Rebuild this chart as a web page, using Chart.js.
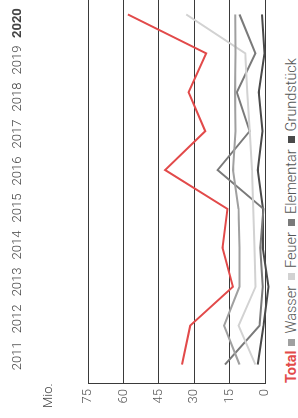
<!DOCTYPE html>
<html>
<head>
<meta charset="utf-8">
<script src="https://cdn.jsdelivr.net/npm/chart.js@4"></script>
<style>
  html, body { margin: 0; padding: 0; background: #fff; }
  body { width: 298px; height: 418px; overflow: hidden; position: relative; font-family: Roboto, "Liberation Sans", sans-serif; }
  #rot {
    position: absolute; left: 0; top: 0; width: 430px; height: 298px;
    transform-origin: 0 0; transform: translate(0, 418px) rotate(-90deg);
  }
  #chart { position: absolute; left: 0; top: 0; }
  #unit { position: absolute; left: 10px; top: 40px; font-size: 13px; font-weight: 300; color: #444; }
  #legend {
    position: absolute; left: 35px; top: 283px; display: flex; align-items: center;
    font-size: 14.5px; font-weight: 300; color: #555; white-space: nowrap;
  }
  #legend .total { color: #e24a4a; font-weight: 700; margin-right: 5px; }
  #legend .item { display: flex; align-items: center; margin-right: 6px; }
  #legend .sw { width: 7px; height: 7px; margin-right: 5px; }
</style>
</head>
<body>
<div id="rot">
  <canvas id="chart" width="430" height="272"></canvas>
  <div id="unit">Mio.</div>
  <div id="legend"></div>
</div>
<script>
const years = ['2011', '2012', '2013', '2014', '2015', '2016', '2017', '2018', '2019', '2020'];
const valueTicks = [0, 15, 30, 45, 60, 75];

const total = [35.2, 31.7, 13.6, 18.0, 15.9, 42.3, 25.3, 32.4, 24.9, 58.1];
const wasser = [10.8, 17.3, 10.8, 10.8, 11.2, 13.6, 12.5, 12.7, 12.5, 12.6];
const feuer = [4.1, 11.2, 4.0, 4.5, 5.0, 5.5, 6.5, 7.5, 8.4, 33.4];
const elementar = [16.9, 2.3, 1.0, 2.0, 0.6, 20.1, 6.5, 11.9, 4.1, 10.8];
const grundstueck = [3.1, 0.6, -1.5, 1.0, 0.8, 3.1, 1.1, 2.6, 0.2, 1.3];

const seriesNames = ['Total', 'Wasser', 'Feuer', 'Elementar', 'Grundstück'];
const seriesColors = ['#e24a4a', '#a0a0a0', '#d2d2d2', '#7a7a7a', '#4a4a4a'];
const seriesData = [total, wasser, feuer, elementar, grundstueck];

// the year labels sit a bit tighter than the data points in the original
const LABEL_AXIS_MIN = 2010.24;
const LABEL_AXIS_MAX = 2020.76;

const FONT = 'Roboto, "Liberation Sans", sans-serif';

function buildLegend() {
  const legend = document.getElementById('legend');
  legend.innerHTML = seriesNames
    .map((name, i) => {
      if (i === 0) {
        return `<span class="total">${name}</span>`;
      }
      return `<span class="item"><span class="sw" style="background:${seriesColors[i]}"></span>${name}</span>`;
    })
    .join('');
}

function buildChart() {
  const ctx = document.getElementById('chart').getContext('2d');
  const datasets = seriesNames.map((name, i) => ({
    label: name,
    data: seriesData[i],
    borderColor: seriesColors[i],
    backgroundColor: seriesColors[i],
    borderWidth: 2,
    pointRadius: 0,
    tension: 0,
    clip: false,
    order: i
  }));

  new Chart(ctx, {
    type: 'line',
    data: { labels: years, datasets },
    options: {
      responsive: false,
      animation: false,
      devicePixelRatio: 1,
      layout: { padding: { left: 0, right: 7, top: 0, bottom: 7 } },
      plugins: { legend: { display: false }, tooltip: { enabled: false } },
      scales: {
        x: {
          display: false,
          offset: true
        },
        yearLabels: {
          type: 'linear',
          position: 'top',
          min: LABEL_AXIS_MIN,
          max: LABEL_AXIS_MAX,
          afterBuildTicks: (s) => { s.ticks = years.map((y) => ({ value: Number(y) })); },
          grid: {
            display: true,
            drawOnChartArea: false,
            drawTicks: true,
            tickLength: 62,
            tickColor: 'rgba(0,0,0,0)',
            color: 'rgba(0,0,0,0)'
          },
          border: { display: false },
          ticks: {
            autoSkip: false,
            maxRotation: 0,
            padding: 0,
            color: '#444',
            callback: (v) => String(v),
            font: (c) => ({ family: FONT, size: 13, weight: c.index === years.length - 1 ? 'bold' : 300 })
          },
          afterFit: (s) => {
            s.height = 88;
            s.paddingLeft = 0;
            s.paddingRight = 0;
          }
        },
        y: {
          min: 0,
          max: 75,
          afterBuildTicks: (s) => { s.ticks = valueTicks.map((v) => ({ value: v })); },
          grid: { color: '#3a3a3a', lineWidth: 1, drawTicks: false },
          border: { display: true, color: '#3a3a3a', width: 1 },
          ticks: {
            padding: 5,
            color: '#555',
            font: { family: FONT, size: 13, weight: 300 }
          },
          afterFit: (s) => {
            s.width = 34;
            s.paddingTop = 0;
            s.paddingBottom = 0;
          }
        }
      }
    }
  });
}

buildLegend();
buildChart();
</script>
</body>
</html>
